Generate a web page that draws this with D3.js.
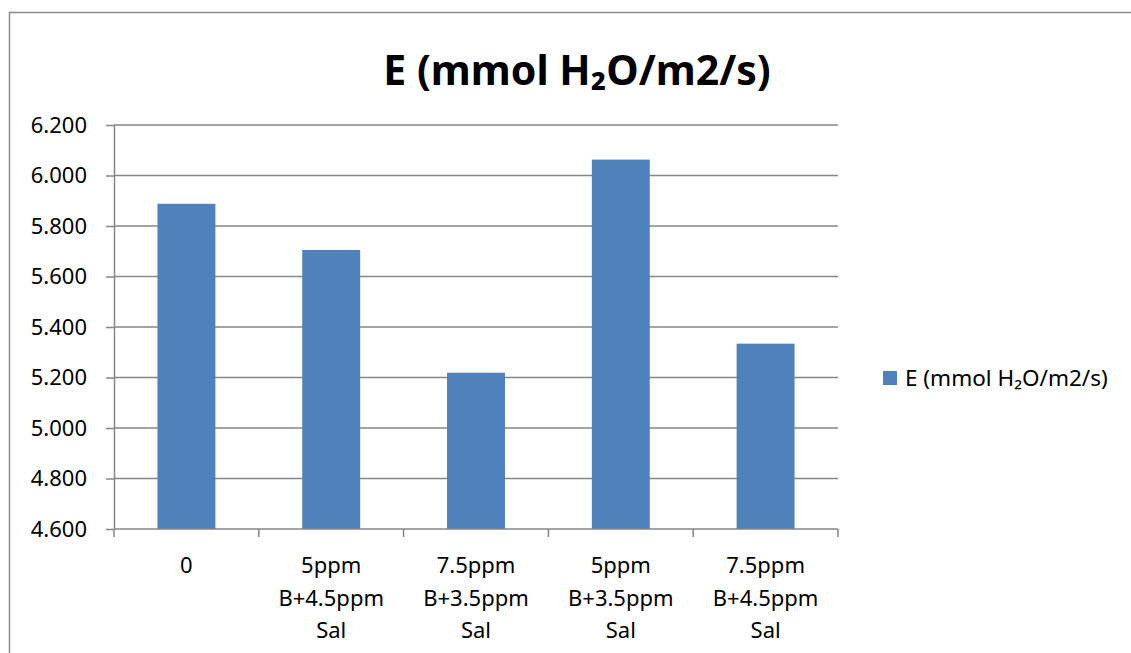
<!DOCTYPE html>
<html>
<head>
<meta charset="utf-8">
<script src="https://cdn.jsdelivr.net/npm/d3@7"></script>
<style>
  body { margin: 0; background: #fff; }
  svg text { font-family: "Noto Sans", "Open Sans", sans-serif; fill: #000; }
</style>
</head>
<body>
<div id="chart"></div>
<script>
const categories = ['0', '5ppm B+4.5ppm Sal', '7.5ppm B+3.5ppm Sal', '5ppm B+3.5ppm Sal', '7.5ppm B+4.5ppm Sal']
const labelLines = [['0'], ['5ppm', 'B+4.5ppm', 'Sal'], ['7.5ppm', 'B+3.5ppm', 'Sal'], ['5ppm', 'B+3.5ppm', 'Sal'], ['7.5ppm', 'B+4.5ppm', 'Sal']]
const values = [5.888, 5.705, 5.219, 6.063, 5.334]
const yTicks = [4.6, 4.8, 5.0, 5.2, 5.4, 5.6, 5.8, 6.0, 6.2]
const seriesName = 'E (mmol H₂O/m2/s)'

const width = 1131, height = 653
const margin = { left: 114, right: 293, top: 125, bottom: 124 }
const plotW = width - margin.left - margin.right,
	plotH = height - margin.top - margin.bottom
const barColor = '#4f81bd', gridColor = '#868686'

const svg = d3.select('#chart').append('svg')
	.attr('width', width)
	.attr('height', height)

// chart border
svg.append('path')
	.attr('d', `M9.5,${height} V12.5 H${width}`)
	.attr('fill', 'none')
	.attr('stroke', '#8c8c8c')
	.attr('stroke-width', 1.5)

svg.append('text')
	.attr('x', 577)
	.attr('y', 85)
	.attr('text-anchor', 'middle')
	.attr('font-size', '41px')
	.attr('font-weight', 'bold')
	.text(seriesName)

const g = svg.append('g')
	.attr('transform', `translate(${margin.left},${margin.top})`)

const xb = d3.scaleBand().domain(categories).range([0, plotW])
const y = d3.scaleLinear()
	.domain([4.6, 6.2])
	.range([plotH, 0])

// gridlines
g.selectAll('.grid')
	.data(yTicks.slice(1))
	.enter().append('line')
	.attr('x1', 0)
	.attr('x2', plotW)
	.attr('y1', d => y(d))
	.attr('y2', d => y(d))
	.attr('stroke', gridColor)
	.attr('stroke-width', 1.5)

// bars, gap width 150%
const barW = xb.bandwidth() / 2.5
g.selectAll('.bar')
	.data(values)
	.enter().append('rect')
	.attr('x', (d, i) => xb(categories[i]) + (xb.bandwidth() - barW) / 2)
	.attr('width', barW)
	.attr('y', d => y(d))
	.attr('height', d => plotH - y(d))
	.attr('fill', barColor)

// y axis
const yAxis = g.append('g')
	.call(d3.axisLeft(y).tickValues(yTicks).tickFormat(d3.format('.3f')).tickSize(8).tickPadding(19))
yAxis.selectAll('path, line').attr('stroke', gridColor).attr('stroke-width', 1.5)
yAxis.select('.domain').attr('d', `M0.5,0V${plotH}`)
yAxis.selectAll('text').attr('font-size', '22px')

// x axis
const xAxis = g.append('g')
	.attr('transform', `translate(0,${plotH})`)
xAxis.append('line')
	.attr('x1', 0).attr('x2', plotW)
	.attr('stroke', gridColor).attr('stroke-width', 1.5)
xAxis.selectAll('.tick')
	.data(d3.range(categories.length + 1))
	.enter().append('line')
	.attr('x1', i => i < categories.length ? xb(categories[i]) : plotW)
	.attr('x2', i => i < categories.length ? xb(categories[i]) : plotW)
	.attr('y1', 0).attr('y2', 8)
	.attr('stroke', gridColor).attr('stroke-width', 1.5)

const lbl = xAxis.selectAll('.lbl')
	.data(labelLines)
	.enter().append('text')
	.attr('text-anchor', 'middle')
	.attr('font-size', '22px')
	.attr('transform', (d, i) => `translate(${xb(categories[i]) + xb.bandwidth() / 2},44)`)
lbl.selectAll('tspan')
	.data(d => d)
	.enter().append('tspan')
	.attr('x', 0)
	.attr('dy', (d, i) => i === 0 ? 0 : 32.5)
	.text(d => d)

// legend
const legend = svg.append('g').attr('transform', 'translate(883,371)')
legend.append('rect')
	.attr('width', 14).attr('height', 14)
	.attr('fill', barColor)
legend.append('text')
	.attr('x', 22)
	.attr('y', 15)
	.attr('font-size', '22.5px')
	.text(seriesName)
</script>
</body>
</html>
